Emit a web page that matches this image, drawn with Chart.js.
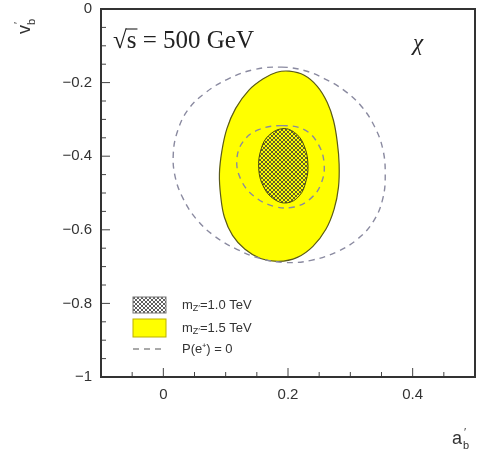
<!DOCTYPE html>
<html>
<head>
<meta charset="utf-8">
<script src="https://cdn.jsdelivr.net/npm/chart.js@4.4.0/dist/chart.umd.min.js"></script>
<style>
  body { margin: 0; background: #fff; }
  #wrap { width: 481px; height: 462px; }
</style>
</head>
<body>
<div id="wrap"><canvas id="myChart" width="481" height="462"></canvas></div>
<script>
// contours (x = a'_b, y = v'_b)
const hatchedX = [0.192, 0.213, 0.226, 0.232, 0.229, 0.218, 0.198, 0.177, 0.161, 0.153, 0.157, 0.169];
const hatchedY = [-0.325, -0.339, -0.372, -0.421, -0.467, -0.508, -0.527, -0.516, -0.484, -0.434, -0.380, -0.344];

const yellowX = [0.202, 0.226, 0.247, 0.263, 0.273, 0.279, 0.282, 0.281, 0.274, 0.261, 0.240, 0.215, 0.185, 0.156, 0.131, 0.111, 0.098, 0.092, 0.090, 0.094, 0.102, 0.116, 0.137, 0.161, 0.182];
const yellowY = [-0.169, -0.180, -0.210, -0.254, -0.303, -0.361, -0.421, -0.484, -0.544, -0.598, -0.645, -0.675, -0.686, -0.678, -0.653, -0.615, -0.566, -0.508, -0.448, -0.385, -0.325, -0.270, -0.221, -0.189, -0.172];

const outerDashX = [0.190, 0.226, 0.258, 0.290, 0.318, 0.339, 0.352, 0.356, 0.352, 0.337, 0.311, 0.277, 0.237, 0.197, 0.156, 0.118, 0.082, 0.053, 0.032, 0.019, 0.016, 0.023, 0.040, 0.068, 0.105, 0.147];
const outerDashY = [-0.158, -0.167, -0.189, -0.221, -0.265, -0.320, -0.380, -0.448, -0.516, -0.577, -0.626, -0.661, -0.683, -0.689, -0.678, -0.653, -0.617, -0.571, -0.516, -0.456, -0.393, -0.331, -0.273, -0.227, -0.189, -0.164];

const innerDashX = [0.190, 0.226, 0.248, 0.258, 0.253, 0.237, 0.210, 0.177, 0.145, 0.124, 0.118, 0.129, 0.153];
const innerDashY = [-0.317, -0.328, -0.366, -0.421, -0.475, -0.514, -0.538, -0.536, -0.508, -0.462, -0.407, -0.358, -0.328];

const xTickValues = [0, 0.2, 0.4];
const xTickLabels = ['0', '0.2', '0.4'];
const xMinorTicks = [-0.05, 0.05, 0.1, 0.15, 0.25, 0.3, 0.35, 0.45];
const yTickValues = [0, -0.2, -0.4, -0.6, -0.8, -1];
const yTickLabels = ['0', '\u22120.2', '\u22120.4', '\u22120.6', '\u22120.8', '\u22121'];
const yMinorTicks = [-0.05, -0.1, -0.15, -0.25, -0.3, -0.35, -0.45, -0.5, -0.55, -0.65, -0.7, -0.75, -0.85, -0.9, -0.95];

const legendLabels = ['1.0 TeV', '1.5 TeV', 'P(e\u207A) = 0'];

const toPoints = (xs, ys) => xs.map((x, i) => ({x: x, y: ys[i]}));

function hatch(bg) {
    const c = document.createElement('canvas');
    c.width = 4; c.height = 4;
    const g = c.getContext('2d');
    if (bg) { g.fillStyle = bg; g.fillRect(0, 0, 4, 4); }
    g.fillStyle = 'rgba(55,55,55,0.8)';
    for (let i = 0; i < 4; i++) {
        g.fillRect(i, i, 1, 1);
        g.fillRect(3 - i, i, 1, 1);
    }
    return g.createPattern(c, 'repeat');
}
const hatchFill = hatch(null);

// make every contour a closed smooth curve
const closedCurves = {
    id: 'closedCurves',
    afterDatasetsUpdate(chart) {
        chart.data.datasets.forEach((ds, i) => {
            const line = chart.getDatasetMeta(i).dataset;
            if (!line) return;
            line._loop = true;
            line._fullLoop = true;
            line._pointsUpdated = false;
            line._segments = undefined;
            line._path = undefined;
            line.updateControlPoints(chart.chartArea, 'x');
        });
    }
};

function subText(ctx, parts, x, y) {
    // parts: [text, size, dy]
    parts.forEach(p => {
        ctx.font = p[1] + 'px "Liberation Sans", Arial, sans-serif';
        ctx.fillText(p[0], x, y + p[2]);
        x += ctx.measureText(p[0]).width;
    });
    return x;
}

const decor = {
    id: 'decor',
    afterDraw(chart) {
        const ctx = chart.ctx;
        const xs = chart.scales.x, ys = chart.scales.y;
        const a = chart.chartArea;
        ctx.save();
        // inner ticks
        ctx.strokeStyle = '#444';
        ctx.lineWidth = 1;
        ctx.beginPath();
        xTickValues.forEach(v => { const p = xs.getPixelForValue(v); ctx.moveTo(p, a.bottom); ctx.lineTo(p, a.bottom - 9); });
        xMinorTicks.forEach(v => { const p = xs.getPixelForValue(v); ctx.moveTo(p, a.bottom); ctx.lineTo(p, a.bottom - 5); });
        yTickValues.forEach(v => { const p = ys.getPixelForValue(v); ctx.moveTo(a.left, p); ctx.lineTo(a.left + 9, p); });
        yMinorTicks.forEach(v => { const p = ys.getPixelForValue(v); ctx.moveTo(a.left, p); ctx.lineTo(a.left + 5, p); });
        ctx.stroke();
        // frame
        ctx.strokeStyle = '#333';
        ctx.lineWidth = 2;
        ctx.strokeRect(a.left, a.top, a.right - a.left, a.bottom - a.top);

        // sqrt(s) label
        ctx.fillStyle = '#222';
        ctx.textBaseline = 'alphabetic';
        ctx.textAlign = 'left';
        ctx.font = '25px "Liberation Serif", "DejaVu Serif", serif';
        const rx = a.left + 12, ry = a.top + 39;
        ctx.fillText('\u221A', rx, ry);
        const wr = ctx.measureText('\u221A').width;
        ctx.fillText('s = 500 GeV', rx + wr, ry);
        const ws = ctx.measureText('s').width;
        ctx.beginPath();
        ctx.lineWidth = 1.2;
        ctx.moveTo(rx + wr - 1, ry - 19);
        ctx.lineTo(rx + wr + ws + 1, ry - 19);
        ctx.stroke();
        // model name
        ctx.font = 'italic 23px "Liberation Serif", "DejaVu Serif", serif';
        ctx.fillText('\u03C7', 413, 50);

        // axis titles
        ctx.fillStyle = '#333';
        ctx.font = '18px "Liberation Sans", Arial, sans-serif';
        ctx.fillText('a', 452, 444);
        ctx.font = '11px "Liberation Sans", Arial, sans-serif';
        ctx.fillText('\u2032', 464, 436);
        ctx.fillText('b', 463, 449);
        ctx.save();
        ctx.translate(30, 24);
        ctx.rotate(-Math.PI / 2);
        ctx.font = '18px "Liberation Sans", Arial, sans-serif';
        ctx.fillText('v', -10, 0);
        ctx.font = '11px "Liberation Sans", Arial, sans-serif';
        ctx.fillText('\u2032', 0, -8);
        ctx.fillText('b', -1, 5);
        ctx.restore();

        // legend
        const lx = 133, lw = 33;
        const rows = [305, 328, 349];
        ctx.fillStyle = '#fff';
        ctx.fillRect(lx, rows[0] - 8, lw, 16);
        ctx.fillStyle = hatchFill;
        ctx.fillRect(lx, rows[0] - 8, lw, 16);
        ctx.strokeStyle = '#777';
        ctx.lineWidth = 1;
        ctx.strokeRect(lx, rows[0] - 8, lw, 16);
        ctx.fillStyle = '#ffff00';
        ctx.fillRect(lx, rows[1] - 9, lw, 18);
        ctx.strokeStyle = '#bbb000';
        ctx.strokeRect(lx, rows[1] - 9, lw, 18);
        ctx.strokeStyle = '#555';
        ctx.lineWidth = 1.2;
        ctx.setLineDash([6, 5]);
        ctx.beginPath();
        ctx.moveTo(lx, rows[2]);
        ctx.lineTo(lx + lw, rows[2]);
        ctx.stroke();
        ctx.setLineDash([]);

        ctx.fillStyle = '#333';
        ctx.textBaseline = 'middle';
        [0, 1].forEach(i => {
            subText(ctx, [['m', 13, 0], ['Z\u2032', 9, 4], ['=' + legendLabels[i], 13, 0]], 182, rows[i]);
        });
        subText(ctx, [[legendLabels[2], 13, 0]], 182, rows[2]);
        ctx.restore();
    }
};

const ctx = document.getElementById('myChart').getContext('2d');
const chart = new Chart(ctx, {
    type: 'scatter',
    data: {
        datasets: [
            {
                label: 'mZ=1.0 TeV',
                data: toPoints(hatchedX, hatchedY),
                showLine: true,
                fill: 'shape',
                backgroundColor: hatchFill,
                borderColor: '#4a4a10',
                borderWidth: 1,
                tension: 0.4,
                pointRadius: 0
            },
            {
                label: 'P=0 (1.0 TeV)',
                data: toPoints(innerDashX, innerDashY),
                showLine: true,
                fill: false,
                borderColor: '#8a8aa0',
                borderWidth: 1.4,
                borderDash: [6, 5],
                tension: 0.4,
                pointRadius: 0
            },
            {
                label: 'P=0 (1.5 TeV)',
                data: toPoints(outerDashX, outerDashY),
                showLine: true,
                fill: false,
                borderColor: '#8a8aa0',
                borderWidth: 1.4,
                borderDash: [6, 5],
                tension: 0.4,
                pointRadius: 0
            },
            {
                label: 'mZ=1.5 TeV',
                data: toPoints(yellowX, yellowY),
                showLine: true,
                fill: 'shape',
                backgroundColor: '#ffff00',
                borderColor: '#5a5a1a',
                borderWidth: 1.2,
                tension: 0.4,
                pointRadius: 0
            }
        ]
    },
    options: {
        responsive: false,
        animation: false,
        events: [],
        layout: { padding: { left: 0, right: 6, top: 9, bottom: 0 } },
        plugins: { legend: { display: false }, tooltip: { enabled: false } },
        scales: {
            x: {
                type: 'linear',
                min: -0.1,
                max: 0.5,
                afterFit: s => { s.height = 85; s.paddingLeft = 0; s.paddingRight = 0; },
                afterBuildTicks: s => { s.ticks = xTickValues.map(v => ({value: v})); },
                grid: { display: false, drawTicks: false },
                border: { display: false },
                ticks: {
                    padding: 9,
                    color: '#333',
                    font: { family: '"Liberation Sans", Arial, sans-serif', size: 15 },
                    callback: (v, i) => xTickLabels[i]
                }
            },
            y: {
                type: 'linear',
                min: -1,
                max: 0,
                afterFit: s => { s.width = 101; s.paddingTop = 0; s.paddingBottom = 0; },
                afterBuildTicks: s => { s.ticks = yTickValues.map(v => ({value: v})); },
                grid: { display: false, drawTicks: false },
                border: { display: false },
                ticks: {
                    padding: 9,
                    color: '#333',
                    font: { family: '"Liberation Sans", Arial, sans-serif', size: 15 },
                    callback: (v, i) => yTickLabels[i]
                }
            }
        }
    },
    plugins: [closedCurves, decor]
});
</script>
</body>
</html>
